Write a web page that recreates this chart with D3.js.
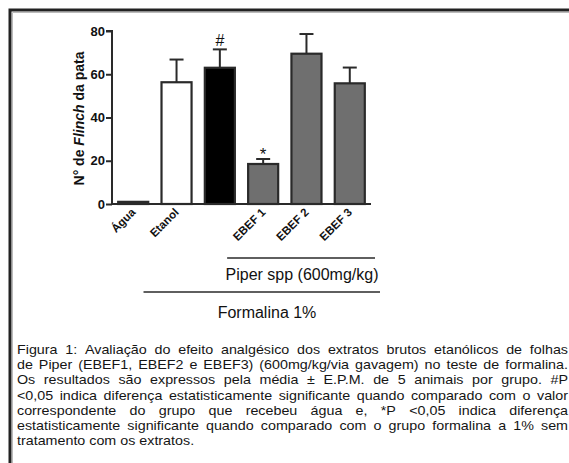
<!DOCTYPE html>
<html>
<head>
<meta charset="utf-8">
<script src="https://cdn.jsdelivr.net/npm/d3@7"></script>
<style>
  html, body { margin: 0; padding: 0; background: #fff; }
  svg { display: block; }
</style>
</head>
<body>
<svg id="chart" width="569" height="463"></svg>
<script>
// Groups, means and standard errors (number of paw flinches)
const categories = ["Água", "Etanol", "Formalina", "EBEF 1", "EBEF 2", "EBEF 3"];
const tickLabels = ["Água", "Etanol", "", "EBEF 1", "EBEF 2", "EBEF 3"];
const means = [1, 56.3, 63, 18.5, 69.5, 55.8];
const errors = [0, 10.5, 8.5, 2.3, 9.1, 7.3];
const fills = ["#ffffff", "#ffffff", "#000000", "#6f6f6f", "#6f6f6f", "#6f6f6f"];
const marks = ["", "", "#", "*", "", ""];
const yTicks = [0, 20, 40, 60, 80];

const caption = [
  "Figura 1: Avaliação do efeito analgésico dos extratos brutos etanólicos de folhas",
  "de Piper (EBEF1, EBEF2 e EBEF3) (600mg/kg/via gavagem) no teste de formalina.",
  "Os resultados são expressos pela média ± E.P.M. de 5 animais por grupo. #P",
  "<0,05 indica diferença estatisticamente significante quando comparado com o valor",
  "correspondente do grupo que recebeu água e, *P <0,05 indica diferença",
  "estatisticamente significante quando comparado com o grupo formalina a 1% sem",
  "tratamento com os extratos."
];

const svg = d3.select("#chart");
const dark = "#2a2a2a";
const font = "'Liberation Sans', Arial, Helvetica, sans-serif";

// Frame
svg.append("path")
  .attr("d", "M10,463 L10,10 L569,10")
  .attr("fill", "none").attr("stroke", "#222").attr("stroke-width", 3);
svg.append("path")
  .attr("d", "M12.5,463 L12.5,12.5 L569,12.5")
  .attr("fill", "none").attr("stroke", "#bbb").attr("stroke-width", 1);

const x = d3.scaleBand().domain(categories).range([112, 371])
  .paddingInner(0.26).paddingOuter(0.12);
const y = d3.scaleLinear().domain([0, 80]).range([204, 31]);

// Y axis
const yAxis = svg.append("g").attr("transform", "translate(112,0)")
  .call(d3.axisLeft(y).tickValues(yTicks).tickSize(6).tickPadding(1).tickFormat(d3.format("d")));
yAxis.select(".domain").attr("stroke", dark).attr("stroke-width", 2).attr("d", `M-6,${y(80)}H0V${y(0)}`);
yAxis.selectAll(".tick line").attr("stroke", dark).attr("stroke-width", 2);
yAxis.selectAll(".tick text").attr("font-family", font).attr("font-size", 13)
  .attr("font-weight", "bold").attr("fill", "#111");

// X axis baseline
svg.append("line")
  .attr("x1", 111).attr("x2", x.range()[1])
  .attr("y1", y(0)).attr("y2", y(0))
  .attr("stroke", dark).attr("stroke-width", 2);

// Bars
const data = categories.map((c, i) => ({ c, v: means[i], e: errors[i], f: fills[i], m: marks[i], t: tickLabels[i] }));
svg.append("g").selectAll("rect").data(data).join("rect")
  .attr("x", d => x(d.c) + 1)
  .attr("width", x.bandwidth() - 2)
  .attr("y", d => y(d.v))
  .attr("height", d => y(0) - y(d.v))
  .attr("fill", d => d.f)
  .attr("stroke", dark).attr("stroke-width", 2.2);

// Error bars (upper half)
const eb = svg.append("g").attr("stroke", dark).attr("stroke-width", 2);
data.filter(d => d.e > 0).forEach(d => {
  const cx = x(d.c) + x.bandwidth() / 2;
  eb.append("line").attr("x1", cx).attr("x2", cx).attr("y1", y(d.v)).attr("y2", y(d.v + d.e));
  eb.append("line").attr("x1", cx - 7).attr("x2", cx + 7).attr("y1", y(d.v + d.e)).attr("y2", y(d.v + d.e));
});

// Significance marks
svg.append("g").selectAll("text").data(data.filter(d => d.m)).join("text")
  .attr("x", d => x(d.c) + x.bandwidth() / 2)
  .attr("y", d => y(d.v + d.e) - (d.m === "*" ? -1 : 3))
  .attr("text-anchor", "middle")
  .attr("font-family", font).attr("font-size", d => d.m === "*" ? 17 : 16)
  .attr("fill", "#111")
  .text(d => d.m);

// Rotated category labels
svg.append("g").selectAll("text").data(data.filter(d => d.t)).join("text")
  .attr("transform", d => `translate(${x(d.c) + x.bandwidth() / 2 + 3},${y(0) + 9}) rotate(-45)`)
  .attr("text-anchor", "end")
  .attr("font-family", font).attr("font-size", 11.5).attr("font-weight", "bold")
  .attr("fill", "#111")
  .text(d => d.t);

// Y axis title
const yt = svg.append("text")
  .attr("transform", `translate(84,${(y(0) + y(80)) / 2 + 1}) rotate(-90)`)
  .attr("text-anchor", "middle")
  .attr("font-family", font).attr("font-size", 14).attr("font-weight", "bold")
  .attr("fill", "#111");
yt.append("tspan").text("N° de ");
yt.append("tspan").attr("font-style", "italic").text("Flinch");
yt.append("tspan").text(" da pata");

// Group brackets
const groups = [
  { label: "Piper spp (600mg/kg)", x1: x("EBEF 1") - 20, x2: x.range()[1] + 4, ly: 258, tx: 302, ty: 280 },
  { label: "Formalina 1%", x1: x("Etanol") - 17, x2: x.range()[1] + 9, ly: 292, tx: 267, ty: 318 }
];
groups.forEach(g => {
  svg.append("line").attr("x1", g.x1).attr("x2", g.x2).attr("y1", g.ly).attr("y2", g.ly)
    .attr("stroke", dark).attr("stroke-width", 1.5);
  svg.append("text").attr("x", g.tx).attr("y", g.ty)
    .attr("text-anchor", "middle")
    .attr("font-family", font).attr("font-size", 16).attr("fill", "#111")
    .text(g.label);
});

// Justified caption, set in a slightly wide face
const capLeft = 17, capRight = 568, capTop = 354, lineH = 15.2, stretch = 1.1;
const capWidth = (capRight - capLeft) / stretch;
const cap = svg.append("g").attr("transform", `translate(${capLeft},0) scale(${stretch},1)`);
caption.forEach((line, li) => {
  const words = line.split(" ");
  const t = cap.append("text")
    .attr("y", capTop + li * lineH)
    .attr("font-family", font).attr("font-size", 13).attr("fill", "#151515");
  const spans = words.map(w => t.append("tspan").text(w));
  const widths = spans.map(s => s.node().getComputedTextLength());
  const total = d3.sum(widths);
  const last = li === caption.length - 1;
  const space = 3.6;
  let gap = (!last && words.length > 1) ? (capWidth - total) / (words.length - 1) : space;
  gap = Math.max(gap, 2.4);
  let cx = 0;
  spans.forEach((s, i) => { s.attr("x", cx); cx += widths[i] + gap; });
});
</script>
</body>
</html>
